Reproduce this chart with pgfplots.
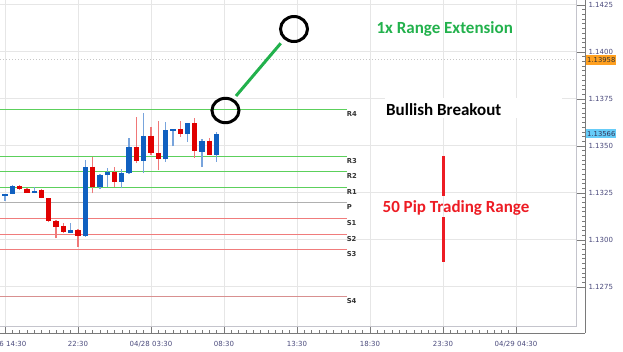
\documentclass[border=0pt]{standalone}
\usepackage{pgfplots}
\pgfplotsset{compat=1.18}
\usepackage{fontspec}
\setmainfont{Carlito}
\newfontfamily\tickfont{DejaVu Sans}
\definecolor{gridc}{HTML}{E6E6E6}
\definecolor{framec}{HTML}{C4C4CC}
\definecolor{axisc}{HTML}{7A7A7A}
\definecolor{labc}{HTML}{4A4A7C}
\definecolor{bodyblue}{HTML}{1060C0}
\definecolor{wickblue}{HTML}{78A4DC}
\definecolor{bodyred}{HTML}{E00000}
\definecolor{wickred}{HTML}{F07878}
\definecolor{rgreen}{HTML}{5CD05C}
\definecolor{pgrey}{HTML}{B0B0B0}
\definecolor{sred}{HTML}{F07C7C}
\definecolor{s4red}{HTML}{D89090}
\definecolor{anngreen}{HTML}{22B14C}
\definecolor{annred}{HTML}{ED1C24}
\definecolor{orangebox}{HTML}{FFA020}
\definecolor{bluebox}{HTML}{66CCF8}
\pgfplotsset{
  wickup/.style={draw=wickblue, line width=1.3pt, mark=none, forget plot},
  wickdn/.style={draw=wickred, line width=1.3pt, mark=none, forget plot},
  bodyup/.style={draw=bodyblue, line width=5.3pt, mark=none, forget plot},
  bodydn/.style={draw=bodyred, line width=5.3pt, mark=none, forget plot},
  pivot/.style={line width=1pt, mark=none, forget plot},
}
% k, open, high, low, close
\newcommand\up[5]{\addplot[wickup] coordinates {(#1,#4) (#1,#3)};\addplot[bodyup] coordinates {(#1,#2) (#1,#5)};}
\newcommand\dn[5]{\addplot[wickdn] coordinates {(#1,#4) (#1,#3)};\addplot[bodydn] coordinates {(#1,#2) (#1,#5)};}
\newcommand\plab[2]{\node[anchor=north west, inner sep=0pt, yshift=-2pt, text=black!80, font=\tickfont\bfseries\fontsize{6.8}{7}\selectfont] at (axis cs:36.8,#1) {#2};}
\begin{document}
\begin{tikzpicture}
\useasboundingbox (0,-18pt) rectangle (623pt,333pt);
\begin{axis}[
  at={(0,0)}, anchor=south west,
  scale only axis, width=585pt, height=333pt,
  xmin=-10.685, xmax=69.45, ymin=1.125053, ymax=1.142766,
  axis x line*=bottom, axis y line*=right,
  axis line style={-, draw=axisc, line width=0.8pt},
  tick align=inside, major tick length=8.5pt, minor tick length=3pt,
  tick style={draw=axisc, line width=0.6pt},
  xtick={-10,0,10,20,30,40,50,60},
  xticklabels={04/26 14:30, 22:30, 04/28 03:30, 08:30, 13:30, 18:30, 23:30, 04/29 04:30},
  minor x tick num=9,
  ytick={1.1275,1.1300,1.1325,1.1350,1.1375,1.1400,1.1425},
  yticklabels={1.1275,1.1300,1.1325,1.1350,1.1375,1.1400,1.1425},
  minor y tick num=9,
  ticklabel style={font=\tickfont\fontsize{7}{8}\selectfont, text=labc},
  x tick label style={yshift=-5pt},
  clip=false,
]
% grid
\draw[gridc, line width=1pt] (axis cs:-10,1.125426) -- (axis cs:-10,1.142766);
\draw[gridc, line width=1pt] (axis cs:0,1.125426) -- (axis cs:0,1.142766);
\draw[gridc, line width=1pt] (axis cs:10,1.125426) -- (axis cs:10,1.142766);
\draw[gridc, line width=1pt] (axis cs:20,1.125426) -- (axis cs:20,1.142766);
\draw[gridc, line width=1pt] (axis cs:30,1.125426) -- (axis cs:30,1.142766);
\draw[gridc, line width=1pt] (axis cs:40,1.125426) -- (axis cs:40,1.142766);
\draw[gridc, line width=1pt] (axis cs:50,1.125426) -- (axis cs:50,1.142766);
\draw[gridc, line width=1pt] (axis cs:60,1.125426) -- (axis cs:60,1.142766);
\draw[gridc, line width=1pt] (axis cs:-10.685,1.1275) -- (axis cs:68.22,1.1275);
\draw[gridc, line width=1pt] (axis cs:-10.685,1.1300) -- (axis cs:68.22,1.1300);
\draw[gridc, line width=1pt] (axis cs:-10.685,1.1325) -- (axis cs:68.22,1.1325);
\draw[gridc, line width=1pt] (axis cs:-10.685,1.1350) -- (axis cs:68.22,1.1350);
\draw[gridc, line width=1pt] (axis cs:-10.685,1.1375) -- (axis cs:68.22,1.1375);
\draw[gridc, line width=1pt] (axis cs:-10.685,1.1400) -- (axis cs:68.22,1.1400);
\draw[gridc, line width=1pt] (axis cs:-10.685,1.1425) -- (axis cs:68.22,1.1425);
% inner frame
\draw[framec, line width=0.8pt] (axis cs:68.22,1.142766) -- (axis cs:68.22,1.125426) -- (axis cs:-10.685,1.125426);
% white patch behind the pasted "Bullish Breakout" label
\fill[white] (axis cs:42.05,1.137532) rectangle (axis cs:66.30,1.136489);
% last ask line
\addplot[draw=black!22, line width=0.8pt, dash pattern=on 1pt off 2pt, mark=none, forget plot] coordinates {(-10.685,1.13958) (68.22,1.13958)};
% pivot lines
\addplot[pivot, draw=rgreen] coordinates {(-10.685,1.136941) (36.8,1.136941)};
\addplot[pivot, draw=rgreen] coordinates {(-10.685,1.134441) (36.8,1.134441)};
\addplot[pivot, draw=rgreen] coordinates {(-10.685,1.133644) (36.8,1.133644)};
\addplot[pivot, draw=rgreen] coordinates {(-10.685,1.132793) (36.8,1.132793)};
\addplot[pivot, draw=pgrey] coordinates {(-10.685,1.131995) (36.8,1.131995)};
\addplot[pivot, draw=sred] coordinates {(-10.685,1.131143) (36.8,1.131143)};
\addplot[pivot, draw=sred] coordinates {(-10.685,1.130292) (36.8,1.130292)};
\addplot[pivot, draw=sred] coordinates {(-10.685,1.129495) (36.8,1.129495)};
\addplot[pivot, draw=s4red] coordinates {(-10.685,1.126994) (36.8,1.126994)};
\plab{1.136941}{R4}
\plab{1.134441}{R3}
\plab{1.133644}{R2}
\plab{1.132793}{R1}
\plab{1.131995}{P}
\plab{1.131143}{S1}
\plab{1.130292}{S2}
\plab{1.129495}{S3}
\plab{1.126994}{S4}
% candles: k, open, high, low, close
\up{-11}{1.13202}{1.13236}{1.13200}{1.13234}
\up{-10}{1.13234}{1.13245}{1.13209}{1.13245}
\up{-9}{1.13245}{1.13290}{1.13243}{1.13287}
\dn{-8}{1.13287}{1.13290}{1.13265}{1.13270}
\dn{-7}{1.13270}{1.13278}{1.13250}{1.13252}
\up{-6}{1.13250}{1.13280}{1.13248}{1.13262}
\dn{-5}{1.13266}{1.13269}{1.13221}{1.13223}
\dn{-4}{1.13223}{1.13226}{1.13094}{1.13101}
\dn{-3}{1.13101}{1.13104}{1.13009}{1.13071}
\dn{-2}{1.13073}{1.13092}{1.13036}{1.13041}
\up{-1}{1.13039}{1.13089}{1.13037}{1.13053}
\dn{0}{1.13053}{1.13056}{1.12964}{1.13021}
\up{1}{1.13021}{1.13426}{1.13018}{1.13390}
\dn{2}{1.13390}{1.13443}{1.13248}{1.13284}
\up{3}{1.13280}{1.13350}{1.13270}{1.13346}
\up{4}{1.13344}{1.13381}{1.13284}{1.13362}
\dn{5}{1.13360}{1.13387}{1.13284}{1.13310}
\up{6}{1.13310}{1.13376}{1.13275}{1.13355}
\up{7}{1.13356}{1.13541}{1.13350}{1.13493}
\dn{8}{1.13493}{1.13654}{1.13412}{1.13419}
\up{9}{1.13420}{1.13674}{1.13356}{1.13555}
\dn{10}{1.13555}{1.13600}{1.13452}{1.13461}
\dn{11}{1.13464}{1.13631}{1.13371}{1.13429}
\up{12}{1.13429}{1.13629}{1.13417}{1.13585}
\up{13}{1.13581}{1.13593}{1.13498}{1.13592}
\dn{14}{1.13590}{1.13633}{1.13550}{1.13562}
\up{15}{1.13562}{1.13623}{1.13521}{1.13621}
\dn{16}{1.13621}{1.13651}{1.13438}{1.13472}
\up{17}{1.13470}{1.13537}{1.13388}{1.13528}
\dn{18}{1.13528}{1.13540}{1.13450}{1.13452}
\up{19}{1.13452}{1.13576}{1.13417}{1.13566}
% annotations
\draw[black, line width=3pt] (axis cs:20.2,1.136888) ellipse [x radius=13.5pt, y radius=12.2pt];
\draw[black, line width=3pt] (axis cs:29.59,1.141223) ellipse [x radius=13.5pt, y radius=12.5pt];
\draw[anngreen, line width=3pt] (axis cs:21.64,1.137660) -- (axis cs:27.77,1.140463);
\draw[annred, line width=3pt] (axis cs:50,1.134468) -- (axis cs:50,1.132340);
\draw[annred, line width=3pt] (axis cs:50,1.131223) -- (axis cs:50,1.128830);
\node[font=\bfseries\fontsize{17}{20}\selectfont, text=anngreen, inner sep=0pt] at (axis cs:50.23,1.141223) {1x Range Extension};
\node[font=\bfseries\fontsize{17}{20}\selectfont, text=black, inner sep=0pt] at (axis cs:50.1,1.136915) {Bullish Breakout};
\node[font=\bfseries\fontsize{17}{20}\selectfont, text=annred, inner sep=0pt] at (axis cs:51.78,1.131702) {50 Pip Trading Range};
% price boxes
\node[fill=orangebox, anchor=west, inner xsep=1pt, inner ysep=0pt, minimum height=9.3pt, text=black!80, font=\tickfont\fontsize{6.8}{8}\selectfont] at (axis cs:69.59,1.13958) {1.13958};
\node[fill=bluebox, anchor=west, inner xsep=1pt, inner ysep=0pt, minimum height=9.3pt, text=labc!70!black, font=\tickfont\fontsize{6.8}{8}\selectfont] at (axis cs:69.59,1.13566) {1.13566};
\end{axis}
\end{tikzpicture}
\end{document}
